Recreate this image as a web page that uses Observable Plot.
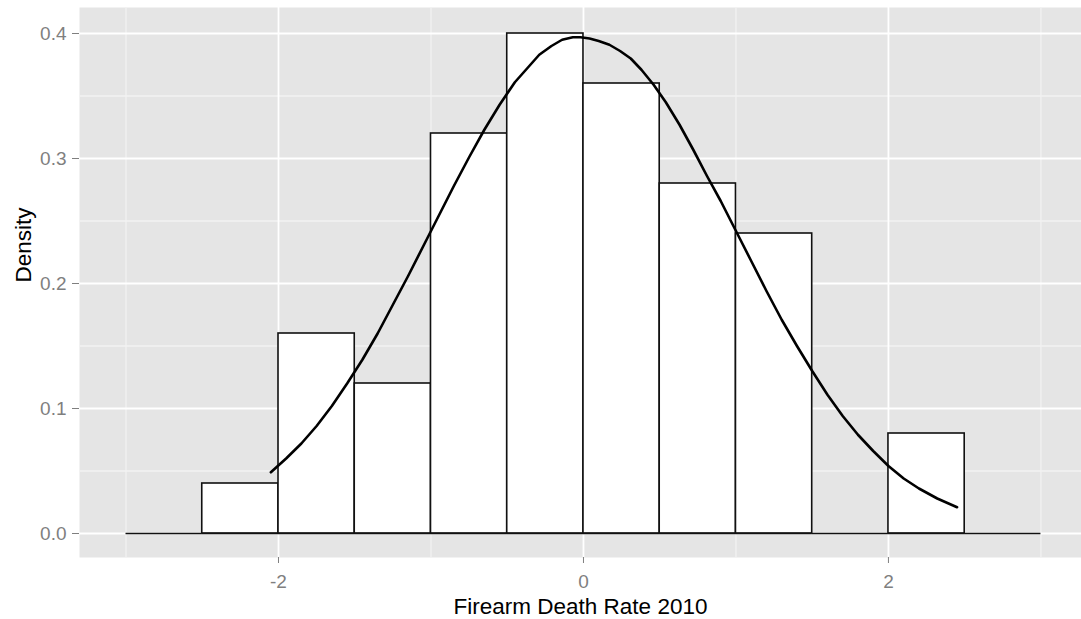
<!DOCTYPE html>
<html>
<head>
<meta charset="utf-8">
<script src="https://cdn.jsdelivr.net/npm/d3@7"></script>
<script src="https://cdn.jsdelivr.net/npm/@observablehq/plot@0.6"></script>
<style>
  html, body { margin: 0; padding: 0; background: #ffffff; }
</style>
</head>
<body>
<div id="chart"></div>
<script>
// Histogram bins (density scale)
const binLo   = [-3, -2.5, -2, -1.5, -1, -0.5, 0, 0.5, 1, 1.5, 2, 2.5];
const binHi   = [-2.5, -2, -1.5, -1, -0.5, 0, 0.5, 1, 1.5, 2, 2.5, 3];
const density = [0, 0.04, 0.16, 0.12, 0.32, 0.40, 0.36, 0.28, 0.24, 0, 0.08, 0];

// Density curve
const curveX = [-2.05, -1.95, -1.85, -1.75, -1.65, -1.55, -1.45, -1.35, -1.25, -1.15, -1.05, -0.95, -0.85, -0.75, -0.65,
                -0.55, -0.45, -0.37, -0.29, -0.21, -0.14, -0.07, -0.02, 0.04, 0.1, 0.17, 0.24, 0.31, 0.38, 0.46, 0.54,
                0.63, 0.72, 0.81, 0.9, 1.0, 1.1, 1.2, 1.3, 1.4, 1.5, 1.6, 1.7, 1.8, 1.9, 2.0, 2.1, 2.2, 2.32, 2.45];
const curveY = [0.049, 0.060, 0.072, 0.086, 0.102, 0.120, 0.139, 0.160, 0.183, 0.206, 0.230, 0.254, 0.278, 0.301, 0.323,
                0.343, 0.361, 0.372, 0.383, 0.390, 0.395, 0.397, 0.397, 0.396, 0.394, 0.391, 0.386, 0.380, 0.371, 0.359, 0.345,
                0.327, 0.307, 0.286, 0.266, 0.242, 0.218, 0.194, 0.171, 0.150, 0.130, 0.111, 0.094, 0.079, 0.066, 0.054, 0.044, 0.036, 0.028, 0.021];

// Axis ticks and grid
const xMajor = [-2, 0, 2];
const xMinor = [-3, -1, 1, 3];
const yMajor = [0, 0.1, 0.2, 0.3, 0.4];
const yMinor = [0.05, 0.15, 0.25, 0.35];

const xLabel = "Firearm Death Rate 2010";
const yLabel = "Density";

const bins = binLo.map((lo, i) => ({x1: lo, x2: binHi[i], y: density[i]}));
const curve = curveX.map((x, i) => ({x, y: curveY[i]}));

const chart = Plot.plot({
  width: 1081,
  height: 619,
  marginLeft: 79,
  marginRight: 0,
  marginTop: 7,
  marginBottom: 62,
  style: {fontFamily: "'Liberation Sans', Arial, sans-serif", background: "#ffffff", color: "#000"},
  x: {domain: [-3.305, 3.266]},
  y: {domain: [-0.0192, 0.4208]},
  marks: [
    Plot.frame({fill: "#E5E5E5", stroke: "none"}),
    Plot.ruleX(xMinor, {stroke: "#F2F2F2", strokeWidth: 1.3}),
    Plot.ruleY(yMinor, {stroke: "#F2F2F2", strokeWidth: 1.3}),
    Plot.ruleX(xMajor, {stroke: "#FFFFFF", strokeWidth: 1.8}),
    Plot.ruleY(yMajor, {stroke: "#FFFFFF", strokeWidth: 1.8}),
    Plot.rect(bins.filter(d => d.y > 0), {x1: "x1", x2: "x2", y1: 0, y2: "y", fill: "#FFFFFF", stroke: "#111111", strokeWidth: 1.6}),
    Plot.ruleY(bins, {y: 0, x1: "x1", x2: "x2", stroke: "#111111", strokeWidth: 1.7}),
    Plot.line(curve, {x: "x", y: "y", stroke: "#000000", strokeWidth: 2.6, strokeLinejoin: "round", strokeLinecap: "round"}),
    Plot.axisX({ticks: xMajor, tickFormat: d => String(d), tickSize: 6, tickPadding: 11, fontSize: 19, color: "#7F7F7F", label: null}),
    Plot.axisY({ticks: yMajor, tickFormat: d3.format(".1f"), tickSize: 7, tickPadding: 6, fontSize: 19, color: "#7F7F7F", label: null}),
    Plot.text([xLabel], {frameAnchor: "bottom", text: d => d, lineAnchor: "bottom", dy: 56, fontSize: 22.5, fill: "#000"}),
    Plot.text([yLabel], {frameAnchor: "left", text: d => d, rotate: -90, lineAnchor: "bottom", dx: -49, fontSize: 22.5, fill: "#000"})
  ]
});
document.getElementById("chart").appendChild(chart);
</script>
</body>
</html>
